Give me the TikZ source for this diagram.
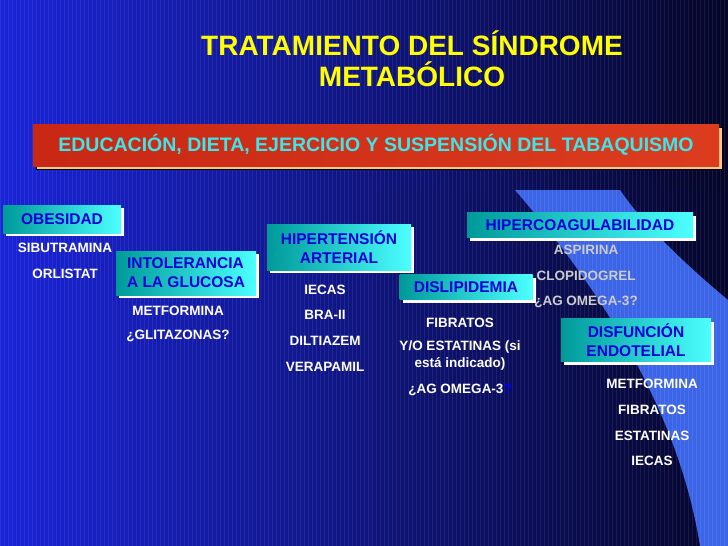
\documentclass[tikz,border=0pt]{standalone}
\usepackage{fontspec}
\setmainfont{Liberation Sans}
\usetikzlibrary{shadows}
\tikzset{every picture/.style={line width=0.75pt}}
\tikzset{
caja/.style={left color=teal!80!cyan, right color=cyan!70!white, text=blue!85!black, font=\bfseries\fontsize{15.5}{19}\selectfont, align=center, inner sep=2pt, copy shadow={shadow xshift=3pt, shadow yshift=-3pt, fill=white, draw=none}},
farmaco/.style={text=white, font=\bfseries\fontsize{13.5}{17}\selectfont, align=center, inner sep=0.75pt},
gris/.style={text=gray!40, font=\bfseries\fontsize{13.5}{17}\selectfont, inner sep=0.75pt}
}

\begin{document}
\begin{tikzpicture}[x=1pt,y=-1pt]
\useasboundingbox (0,0) rectangle (728,546);

%Background
\shade [left color={rgb, 255:red, 25; green, 35; blue, 215}, right color={rgb, 255:red, 5; green, 5; blue, 40}] (0,0) rectangle (728,546);
\shade [left color={rgb, 255:red, 15; green, 20; blue, 120}, right color={rgb, 255:red, 5; green, 5; blue, 45}, fill opacity=0.8] (380,190) rectangle (728,546);
\fill [fill={rgb, 255:red, 60; green, 100; blue, 230}] (515,190) .. controls (610,300) and (680,420) .. (700,546) -- (728,546) -- (728,300) .. controls (680,260) and (640,220) .. (620,190) -- cycle;
\foreach \x in {0,4,...,728} {\draw [white, opacity=0.08, line width=0.5pt] (\x,0) -- (\x,546);}

% Title
\node [text={rgb, 255:red, 255; green, 255; blue, 0}, font=\bfseries\fontsize{28}{31}\selectfont, align=center] (titulo) at (412,59) {TRATAMIENTO DEL SÍNDROME\\METABÓLICO};

% Banner
\node [left color={rgb, 255:red, 200; green, 40; blue, 20}, right color={rgb, 255:red, 220; green, 60; blue, 30}, minimum width=686pt, minimum height=42pt, text={rgb, 255:red, 60; green, 230; blue, 235}, font=\bfseries\fontsize{19.5}{22}\selectfont, copy shadow={shadow xshift=3pt, shadow yshift=-3pt, fill={rgb, 255:red, 250; green, 200; blue, 140}}] (banner) at (376,145) {EDUCACIÓN, DIETA, EJERCICIO Y SUSPENSIÓN DEL TABAQUISMO};

% Boxes
\node [caja, minimum width=118pt, minimum height=28pt] (obesidad) at (62,219) {OBESIDAD};
\node [caja, minimum width=140pt, minimum height=44pt, align=left] (intolerancia) at (186,273) {INTOLERANCIA\\A LA GLUCOSA};
\node [caja, minimum width=144pt, minimum height=46pt] (hipertension) at (339,247) {HIPERTENSIÓN\\ARTERIAL};
\node [caja, minimum width=226pt, minimum height=25pt] (hipercoag) at (580,225) {HIPERCOAGULABILIDAD};
\node [caja, minimum width=133pt, minimum height=25pt] (dislipidemia) at (466,287) {DISLIPIDEMIA};
\node [caja, minimum width=150pt, minimum height=43pt] (disfuncion) at (636,340) {DISFUNCIÓN\\ENDOTELIAL};

% Text Node
\node [farmaco] (sibutramina) at (65,248) {SIBUTRAMINA};
\node [farmaco] (orlistat) at (65,274) {ORLISTAT};
\node [farmaco] (metformina1) at (178,311) {METFORMINA};
\node [farmaco] (glitazonas) at (178,336) {¿GLITAZONAS?};
\node [farmaco] (iecas1) at (325,290) {IECAS};
\node [farmaco] (bra) at (325,315) {BRA-II};
\node [farmaco] (diltiazem) at (325,341) {DILTIAZEM};
\node [farmaco] (verapamil) at (325,367) {VERAPAMIL};
\node [gris] (aspirina) at (586,250) {ASPIRINA};
\node [gris] (clopidogrel) at (586,276) {CLOPIDOGREL};
\node [gris] (omega1) at (586,302) {¿AG OMEGA-3?};
\node [farmaco] (fibratos1) at (460,323) {FIBRATOS};
\node [farmaco] (estatinas1) at (460,356) {Y/O ESTATINAS (si\\está indicado)};
\node [farmaco] (omega2) at (460,390) {¿AG OMEGA-3\textcolor{blue}{?}};
\node [farmaco] (metformina2) at (652,384) {METFORMINA};
\node [farmaco] (fibratos2) at (652,410) {FIBRATOS};
\node [farmaco] (estatinas2) at (652,436) {ESTATINAS};
\node [farmaco] (iecas2) at (652,461) {IECAS};

\end{tikzpicture}
\end{document}
